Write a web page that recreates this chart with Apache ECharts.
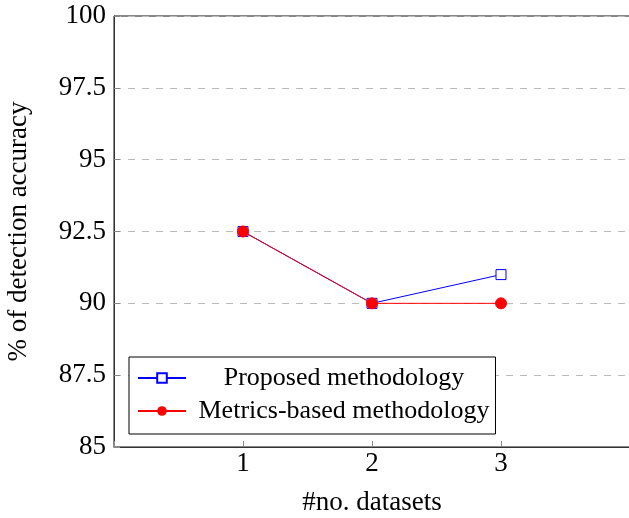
<!DOCTYPE html>
<html>
<head>
<meta charset="utf-8">
<script src="https://cdn.jsdelivr.net/npm/echarts@6/dist/echarts.min.js"></script>
<style>
  html, body { margin: 0; padding: 0; background: #fff; }
  #chart { width: 629px; height: 518px; }
</style>
</head>
<body>
<div id="chart"></div>
<script>
var datasets = [1, 2, 3];
var proposed = [92.5, 90, 91];
var metrics = [92.5, 90, 90];
var seriesNames = ['Proposed methodology', 'Metrics-based methodology'];

var font = '"Liberation Serif", "DejaVu Serif", serif';

var chart = echarts.init(document.getElementById('chart'));

function pairs(xs, ys) {
	var out = [];
	for (var i = 0; i < xs.length; i++) out.push([xs[i], ys[i]]);
	return out;
}

var option = {
	animation: false,
	backgroundColor: '#fff',
	grid: {
		left: 114, top: 16, right: -1, bottom: 71,
		containLabel: false,
		outerBoundsMode: 'none',
		show: true, borderColor: '#111', borderWidth: 1
	},
	legend: {
		orient: 'vertical',
		left: 129, top: 357,
		padding: [8, 6, 10, 8],
		itemGap: 7,
		itemWidth: 48,
		itemHeight: 12,
		borderColor: '#000',
		borderWidth: 1,
		backgroundColor: '#fff',
		data: seriesNames,
		textStyle: {
			fontFamily: font,
			fontSize: 26,
			color: '#000',
			rich: {
				c: { fontFamily: font, fontSize: 26, color: '#000', width: 306, align: 'center' }
			}
		},
		formatter: function (name) { return '{c|' + name + '}'; }
	},
	xAxis: {
		type: 'value',
		min: 0, max: 4, interval: 1,
		name: '#no. datasets',
		nameLocation: 'middle',
		nameGap: 42,
		nameTextStyle: { fontFamily: font, fontSize: 27, color: '#000' },
		axisLine: { lineStyle: { color: '#333', width: 1 } },
		axisTick: { inside: true, length: 6, lineStyle: { color: '#888' } },
		axisLabel: {
			fontFamily: font, fontSize: 27, color: '#000', margin: 3,
			formatter: function (v) { return datasets.indexOf(v) >= 0 ? String(v) : ''; }
		},
		splitLine: { show: false }
	},
	yAxis: {
		type: 'value',
		min: 85, max: 100, interval: 2.5,
		name: '% of detection accuracy',
		nameLocation: 'middle',
		nameGap: 82,
		nameTextStyle: { fontFamily: font, fontSize: 27, color: '#000' },
		axisLine: { show: true, lineStyle: { color: '#333', width: 1 } },
		axisTick: { show: true, inside: true, length: 6, lineStyle: { color: '#888' } },
		axisLabel: { fontFamily: font, fontSize: 27, color: '#000', margin: 8 },
		splitLine: { show: true, lineStyle: { color: '#bbb', type: [7, 7], width: 1 } }
	},
	series: [
		{
			name: seriesNames[0],
			type: 'line',
			data: pairs(datasets, proposed),
			symbol: 'rect',
			symbolSize: 10,
			color: '#0000ff',
			lineStyle: { color: '#0000ff', width: 1 },
			itemStyle: { color: '#fff', borderColor: '#0000ff', borderWidth: 1 },
			z: 2
		},
		{
			name: seriesNames[1],
			type: 'line',
			data: pairs(datasets, metrics),
			symbol: 'circle',
			symbolSize: 11,
			color: '#ff0000',
			lineStyle: { color: '#ff0000', width: 1 },
			itemStyle: { color: '#ff0000', borderColor: '#ff0000' },
			z: 3
		}
	]
};

chart.setOption(option);
</script>
</body>
</html>
